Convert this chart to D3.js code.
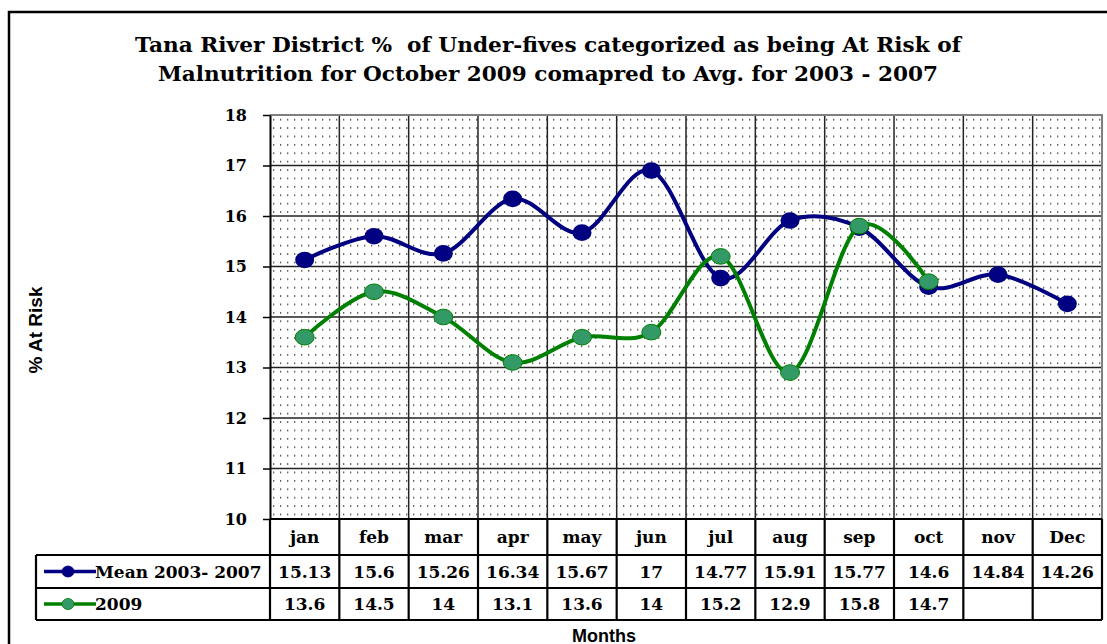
<!DOCTYPE html>
<html>
<head>
<meta charset="utf-8">
<script src="https://cdn.jsdelivr.net/npm/d3@7"></script>
<style>
  html, body { margin: 0; padding: 0; background: #fff; }
  svg { display: block; }
</style>
</head>
<body>
<svg id="chart" width="1107" height="644"></svg>
<script>
// ---- data ----
const titleLines = [
  "Tana River District %  of Under-fives categorized as being At Risk of",
  "Malnutrition for October 2009 comapred to Avg. for 2003 - 2007"
];
const months = ["jan","feb","mar","apr","may","jun","jul","aug","sep","oct","nov","Dec"];
const seriesNames = ["Mean 2003- 2007", "2009"];
// values as plotted in the chart
const meanValues = [15.13, 15.6, 15.26, 16.34, 15.67, 16.9, 14.77, 15.91, 15.77, 14.6, 14.84, 14.26];
const values2009 = [13.6, 14.5, 14, 13.1, 13.6, 13.7, 15.2, 12.9, 15.8, 14.7];
// values as printed in the data table
const meanLabels = ["15.13","15.6","15.26","16.34","15.67","17","14.77","15.91","15.77","14.6","14.84","14.26"];
const labels2009 = ["13.6","14.5","14","13.1","13.6","14","15.2","12.9","15.8","14.7","",""];
const yTicks = [10, 11, 12, 13, 14, 15, 16, 17, 18];
const yLabel = "% At Risk";
const xLabel = "Months";

// ---- layout ----
const svg = d3.select("#chart");
const plot = { left: 270, right: 1102, top: 115, bottom: 519 };
const serif = "'DejaVu Serif', serif";
const sans = "'Liberation Sans', Arial, sans-serif";
const colors = { mean: "#000080", g2009line: "#008000", g2009fill: "#339966" };

const x = d3.scaleBand().domain(months).range([plot.left, plot.right]).padding(0);
const y = d3.scaleLinear().domain([10, 18]).range([plot.bottom, plot.top]);
const cx = m => x(m) + x.bandwidth() / 2;

// outer frame
svg.append("path")
  .attr("d", `M9,644 V12 H1107`)
  .attr("fill", "none").attr("stroke", "#000").attr("stroke-width", 2.5);

// title
svg.selectAll("text.title").data(titleLines).join("text")
  .attr("class", "title")
  .attr("x", 548)
  .attr("y", (d, i) => 52 + i * 29)
  .attr("text-anchor", "middle")
  .attr("font-family", serif).attr("font-weight", "bold").attr("font-size", 20)
  .attr("textLength", (d, i) => i === 0 ? 826 : 780)
  .attr("lengthAdjust", "spacingAndGlyphs")
  .style("white-space", "pre")
  .text(d => d);

// dotted background pattern
const defs = svg.append("defs");
const pat = defs.append("pattern")
  .attr("id", "dots").attr("patternUnits", "userSpaceOnUse")
  .attr("x", plot.left).attr("y", plot.top)
  .attr("width", 7).attr("height", 8.4);
pat.append("rect").attr("width", 7).attr("height", 8.4).attr("fill", "#fff");
pat.append("rect").attr("x", 3).attr("y", 4).attr("width", 1.3).attr("height", 1.3).attr("fill", "#222");

svg.append("rect")
  .attr("x", plot.left).attr("y", plot.top)
  .attr("width", plot.right - plot.left).attr("height", plot.bottom - plot.top)
  .attr("fill", "url(#dots)");

// horizontal gridlines
svg.append("g").selectAll("line").data(yTicks.filter(t => t > 10 && t < 18)).join("line")
  .attr("x1", plot.left).attr("x2", plot.right)
  .attr("y1", d => y(d)).attr("y2", d => y(d))
  .attr("stroke", "#222").attr("stroke-width", 1.5);

// vertical gridlines (column borders)
svg.append("g").selectAll("line").data(months.slice(1)).join("line")
  .attr("x1", d => x(d)).attr("x2", d => x(d))
  .attr("y1", plot.top).attr("y2", plot.bottom)
  .attr("stroke", "#222").attr("stroke-width", 1.5);

// plot border (top/right gray)
svg.append("path")
  .attr("d", `M${plot.left},${plot.top} H${plot.right} V${plot.bottom}`)
  .attr("fill", "none").attr("stroke", "#808080").attr("stroke-width", 2);

// y axis
const yAxis = svg.append("g")
  .attr("transform", `translate(${plot.left},0)`)
  .call(d3.axisLeft(y).tickValues(yTicks).tickSize(7).tickSizeOuter(0).tickPadding(16).tickFormat(d3.format("d")));
yAxis.select(".domain").attr("stroke", "#000").attr("stroke-width", 2);
yAxis.selectAll(".tick line").attr("stroke", "#000").attr("stroke-width", 1.5);
yAxis.selectAll(".tick text")
  .attr("font-family", serif).attr("font-weight", "bold").attr("font-size", 16).attr("fill", "#000");

// y label
svg.append("text")
  .attr("transform", "translate(42,330) rotate(-90)")
  .attr("text-anchor", "middle")
  .attr("font-family", sans).attr("font-weight", "bold").attr("font-size", 19)
  .text(yLabel);

// lines
const line = d3.line().curve(d3.curveCardinal.tension(0));
const meanPts = meanValues.map((v, i) => [cx(months[i]), y(v)]);
const pts2009 = values2009.map((v, i) => [cx(months[i]), y(v)]);

svg.append("path").attr("d", line(meanPts))
  .attr("fill", "none").attr("stroke", colors.mean).attr("stroke-width", 4).attr("stroke-linejoin", "round");
svg.append("g").selectAll("ellipse").data(meanPts).join("ellipse")
  .attr("cx", d => d[0]).attr("cy", d => d[1]).attr("rx", 9.5).attr("ry", 8.3)
  .attr("fill", colors.mean);

svg.append("path").attr("d", line(pts2009))
  .attr("fill", "none").attr("stroke", colors.g2009line).attr("stroke-width", 4).attr("stroke-linejoin", "round");
svg.append("g").selectAll("ellipse").data(pts2009).join("ellipse")
  .attr("cx", d => d[0]).attr("cy", d => d[1]).attr("rx", 9.5).attr("ry", 7.8)
  .attr("fill", colors.g2009fill).attr("stroke", colors.g2009line).attr("stroke-width", 1);

// ---- data table ----
const tbl = { left: 36, headTop: plot.bottom, headBot: 555, row1Bot: 588, row2Bot: 620 };
const tg = svg.append("g");
const bw = 2.2;

tg.append("path")
  .attr("d", `M${plot.left},${tbl.headTop} V${tbl.row2Bot} M${plot.right},${tbl.headTop} V${tbl.row2Bot}` +
             ` M${plot.left},${tbl.headBot} H${plot.right}` +
             ` M${tbl.left},${tbl.headBot} H${plot.left}` +
             ` M${tbl.left},${tbl.row1Bot} H${plot.right}` +
             ` M${tbl.left},${tbl.row2Bot} H${plot.right}` +
             ` M${tbl.left},${tbl.headBot} V${tbl.row2Bot}` +
             ` M${plot.left},${tbl.headTop} H${plot.right}`)
  .attr("fill", "none").attr("stroke", "#000").attr("stroke-width", bw);
tg.selectAll("line.col").data(months.slice(1)).join("line")
  .attr("class", "col")
  .attr("x1", d => x(d)).attr("x2", d => x(d))
  .attr("y1", tbl.headTop).attr("y2", tbl.row2Bot)
  .attr("stroke", "#000").attr("stroke-width", bw);

const textStyle = s => s.attr("font-family", serif).attr("font-weight", "bold").attr("font-size", 17).attr("fill", "#000");

tg.selectAll("text.hd").data(months).join("text")
  .attr("class", "hd")
  .attr("x", d => cx(d)).attr("y", (tbl.headTop + tbl.headBot) / 2 + 6)
  .attr("text-anchor", "middle").call(textStyle).text(d => d);

tg.selectAll("text.r1").data(meanLabels).join("text")
  .attr("class", "r1")
  .attr("x", (d, i) => cx(months[i])).attr("y", (tbl.headBot + tbl.row1Bot) / 2 + 6)
  .attr("text-anchor", "middle").call(textStyle).text(d => d);

tg.selectAll("text.r2").data(labels2009).join("text")
  .attr("class", "r2")
  .attr("x", (d, i) => cx(months[i])).attr("y", (tbl.row1Bot + tbl.row2Bot) / 2 + 6)
  .attr("text-anchor", "middle").call(textStyle).text(d => d);

// legend keys
const keyRows = [
  { name: seriesNames[0], y: (tbl.headBot + tbl.row1Bot) / 2, stroke: colors.mean, fill: colors.mean },
  { name: seriesNames[1], y: (tbl.row1Bot + tbl.row2Bot) / 2, stroke: colors.g2009line, fill: colors.g2009fill }
];
keyRows.forEach(k => {
  tg.append("line").attr("x1", 44).attr("x2", 96).attr("y1", k.y).attr("y2", k.y)
    .attr("stroke", k.stroke).attr("stroke-width", 3.5);
  tg.append("ellipse").attr("cx", 68).attr("cy", k.y).attr("rx", 6).attr("ry", 5.5)
    .attr("fill", k.fill).attr("stroke", k.stroke).attr("stroke-width", 0.8);
  tg.append("text").attr("x", 95).attr("y", k.y + 6).call(textStyle).text(k.name);
});

// x label (partly cut by the bottom edge, as in the reference)
svg.append("text")
  .attr("x", 604).attr("y", 642)
  .attr("text-anchor", "middle")
  .attr("font-family", sans).attr("font-weight", "bold").attr("font-size", 18)
  .text(xLabel);
</script>
</body>
</html>
